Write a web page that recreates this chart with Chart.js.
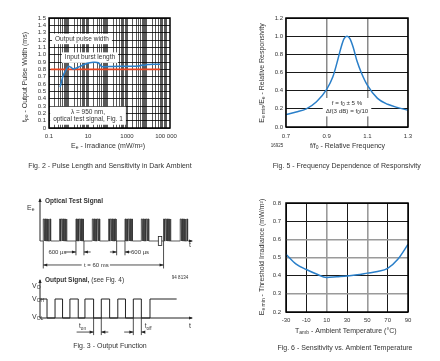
<!DOCTYPE html>
<html>
<head>
<meta charset="utf-8">
<script src="https://cdn.jsdelivr.net/npm/chart.js@4.4.1/dist/chart.umd.min.js"></script>
<style>
html, body { margin: 0; padding: 0; background: #fff; }
#wrap { position: relative; width: 440px; height: 361px; overflow: hidden; }
canvas { position: absolute; }
</style>
</head>
<body>
<div id="wrap">
  <canvas id="fig2" width="220" height="180" style="left:0;top:0"></canvas>
  <canvas id="fig5" width="220" height="180" style="left:220px;top:0"></canvas>
  <canvas id="fig3" width="220" height="181" style="left:0;top:180px"></canvas>
  <canvas id="fig6" width="220" height="181" style="left:220px;top:180px"></canvas>
</div>
<script>
// Fig. 2 - pulse length vs irradiance
var irradiance = [0.37, 0.54, 0.81, 0.98, 1.3, 1.8, 3.9, 8.5, 18.7, 34, 50, 200, 1000, 4100, 6000, 7500, 11000, 20000, 49000];
var pulseWidth = [0.555, 0.72, 0.81, 0.84, 0.83, 0.805, 0.84, 0.88, 0.896, 0.89, 0.84, 0.84, 0.842, 0.845, 0.86, 0.852, 0.865, 0.87, 0.87];
var burstIrradiance = [0.12, 50000];
var burstLength = [0.8, 0.8];
var irrTickValues = [0.1, 10, 1000, 100000];
var irrTickLabels = ['0.1', '10', '1000', '100 000'];

// Fig. 5 - relative responsivity vs relative frequency
var relFreq = [0.7, 0.75, 0.8, 0.85, 0.9, 0.93, 0.95, 0.97, 0.985, 1.0, 1.015, 1.03, 1.05, 1.07, 1.1, 1.15, 1.2, 1.25, 1.3];
var relResp = [0.137, 0.165, 0.2, 0.278, 0.415, 0.55, 0.7, 0.87, 0.97, 1.0, 0.97, 0.88, 0.72, 0.6, 0.46, 0.315, 0.25, 0.213, 0.185];

// Fig. 6 - threshold irradiance vs ambient temperature
var ambTemp = [-30, -20, -10, 0, 10, 20, 30, 40, 50, 60, 70, 80, 90];
var threshold = [0.518, 0.464, 0.434, 0.409, 0.39, 0.394, 0.398, 0.405, 0.414, 0.423, 0.44, 0.49, 0.572];

// Fig. 3 - timing diagram, time in burst periods
var burstStarts = [0, 1, 2, 3, 4, 5, 6, 7.36, 8.38];
var carrierStarts = [0, 0.1, 0.2, 0.3, 0.4];
var carrierWidth = 0.05;
var outputEdges = [-0.2, 0.23, 0.72, 1.18, 1.63, 2.14, 2.55, 3.08, 3.55, 4.06, 4.56, 5.03, 5.51, 6.0, 6.53, 8.16];
var outputLevels = [1, 0, 1, 0, 1, 0, 1, 0, 1, 0, 1, 0, 1, 0, 1, 1];

var FONT = '"Liberation Sans", Arial, Helvetica, sans-serif';
var INK = '#333';
var BLUE = '#2a7fc9';
var RED = '#e8431e';
Chart.defaults.font.family = FONT;
Chart.defaults.color = INK;

// text helpers: _{sub}  ^{sup}  *{bold}
function parseRich(s) {
  var parts = [], re = /([_^*])\{([^}]*)\}/g, last = 0, m;
  while ((m = re.exec(s))) {
    if (m.index > last) parts.push([s.slice(last, m.index), 'n']);
    parts.push([m[2], m[1]]);
    last = re.lastIndex;
  }
  if (last < s.length) parts.push([s.slice(last), 'n']);
  return parts;
}
function fontFor(kind, size) {
  if (kind === '_' || kind === '^') return (size * 0.72).toFixed(1) + 'px ' + FONT;
  if (kind === '*') return 'bold ' + size + 'px ' + FONT;
  return size + 'px ' + FONT;
}
function richWidth(ctx, s, size) {
  var w = 0;
  parseRich(s).forEach(function (p) { ctx.font = fontFor(p[1], size); w += ctx.measureText(p[0]).width; });
  return w;
}
function drawRich(ctx, s, x, y, size, align, rot) {
  var w = richWidth(ctx, s, size);
  ctx.save();
  ctx.translate(x, y);
  ctx.rotate(rot || 0);
  ctx.fillStyle = INK;
  ctx.textBaseline = 'middle';
  ctx.textAlign = 'left';
  var cx = align === 'left' ? 0 : align === 'right' ? -w : -w / 2;
  parseRich(s).forEach(function (p) {
    ctx.font = fontFor(p[1], size);
    var dy = p[1] === '_' ? size * 0.3 : p[1] === '^' ? -size * 0.3 : 0;
    ctx.fillText(p[0], cx, dy);
    cx += ctx.measureText(p[0]).width;
  });
  ctx.restore();
}
function noteBox(ctx, lines, cx, cy, size, lineH) {
  var w = Math.max.apply(null, lines.map(function (l) { return richWidth(ctx, l, size); })) + 6;
  var h = lines.length * lineH + 3;
  ctx.save();
  ctx.fillStyle = '#fff';
  ctx.fillRect(cx - w / 2, cy - h / 2, w, h);
  ctx.restore();
  lines.forEach(function (l, i) {
    drawRich(ctx, l, cx, cy + (i - (lines.length - 1) / 2) * lineH, size, 'center');
  });
}

// fix axis box sizes so the plot areas land where the reference has them
function fitTo(size) {
  return function (s) { if (s.isHorizontal()) s.height = size; else s.width = size; };
}
var tickFont = { size: 6, family: FONT };
var base = {
  responsive: false,
  animation: false,
  events: [],
  plugins: { legend: { display: false }, tooltip: { enabled: false } }
};
var frame = {
  id: 'frame',
  afterDatasetsDraw: function (chart) {
    var a = chart.chartArea, c = chart.ctx;
    c.save();
    c.strokeStyle = '#000';
    c.lineWidth = 1.5;
    c.strokeRect(a.left, a.top, a.right - a.left, a.bottom - a.top);
    c.restore();
  }
};
function pts(xs, ys) { return xs.map(function (x, i) { return { x: x, y: ys[i] }; }); }

// ---------- Fig. 2 ----------
var irrGrid = [];
for (var e = -1; e <= 5; e++) {
  for (var m = 1; m <= 9; m++) {
    var v = m * Math.pow(10, e);
    if (v <= 160000) irrGrid.push(v);
  }
}
function irrLabel(v) {
  for (var i = 0; i < irrTickValues.length; i++) {
    if (Math.abs(v / irrTickValues[i] - 1) < 1e-6) return irrTickLabels[i];
  }
  return '';
}
new Chart(document.getElementById('fig2'), {
  type: 'line',
  data: {
    datasets: [
      { data: pts(irradiance, pulseWidth), borderColor: BLUE, borderWidth: 1.5, pointRadius: 0, tension: 0.3 },
      { data: pts(burstIrradiance, burstLength), borderColor: RED, borderWidth: 1.6, pointRadius: 0 }
    ]
  },
  options: Object.assign({}, base, {
    layout: { padding: { left: 0, top: 18, right: 50, bottom: 0 } },
    scales: {
      x: {
        type: 'logarithmic', min: 0.1, max: 160000, afterFit: fitTo(52),
        afterBuildTicks: function (s) { s.ticks = irrGrid.map(function (v) { return { value: v }; }); },
        grid: { color: 'rgba(0,0,0,0.72)', lineWidth: 0.9, drawTicks: false },
        border: { display: false },
        ticks: { autoSkip: false, maxRotation: 0, padding: 5, font: tickFont, color: INK, callback: function (v) { return irrLabel(v); } }
      },
      y: {
        min: 0, max: 1.5, afterFit: fitTo(49),
        grid: { color: 'rgba(0,0,0,0.8)', lineWidth: 1, drawTicks: false },
        border: { display: false },
        ticks: { stepSize: 0.1, autoSkip: false, padding: 3, font: tickFont, color: INK,
          callback: function (v) { return v === 0 ? '0' : v.toFixed(1); } }
      }
    }
  }),
  plugins: [frame, {
    id: 'notes2',
    beforeDatasetsDraw: function (chart) {
      var c = chart.ctx, sx = chart.scales.x, sy = chart.scales.y;
      noteBox(c, ['Output pulse width'], sx.getPixelForValue(4.9), sy.getPixelForValue(1.215), 6.5, 7.5);
      noteBox(c, ['Input burst length'], sx.getPixelForValue(12.6), sy.getPixelForValue(0.96), 6.5, 7.5);
      noteBox(c, ['\u03bb = 950 nm,', 'optical test signal, Fig. 1'], sx.getPixelForValue(10), sy.getPixelForValue(0.167), 6.5, 7.5);
    },
    afterDraw: function (chart) {
      var c = chart.ctx;
      drawRich(c, 't_{po} - Output Pulse Width (ms)', 25, 77, 7, 'center', -Math.PI / 2);
      drawRich(c, 'E_{e} - Irradiance (mW/m\u00b2)', 108, 146, 7, 'center');
      drawRich(c, 'Fig. 2 - Pulse Length and Sensitivity in Dark Ambient', 110, 166, 7, 'center');
    }
  }]
});

// ---------- Fig. 5 ----------
new Chart(document.getElementById('fig5'), {
  type: 'line',
  data: {
    datasets: [
      { data: pts(relFreq, relResp), borderColor: BLUE, borderWidth: 1.5, pointRadius: 0, cubicInterpolationMode: 'monotone' }
    ]
  },
  options: Object.assign({}, base, {
    layout: { padding: { left: 0, top: 18, right: 32, bottom: 0 } },
    scales: {
      x: {
        type: 'linear', min: 0.7, max: 1.3, afterFit: fitTo(53),
        grid: { color: '#8a8a8a', lineWidth: 1.5, drawTicks: false },
        border: { display: false },
        ticks: { stepSize: 0.2, padding: 6, font: tickFont, color: INK, callback: function (v) { return v.toFixed(1); } }
      },
      y: {
        min: 0, max: 1.2, afterFit: fitTo(66),
        grid: { color: '#1a1a1a', lineWidth: 1, drawTicks: false },
        border: { display: false },
        ticks: { stepSize: 0.2, padding: 3, font: tickFont, color: INK, callback: function (v) { return v.toFixed(1); } }
      }
    }
  }),
  plugins: [frame, {
    id: 'notes5',
    beforeDatasetsDraw: function (chart) {
      var c = chart.ctx, sx = chart.scales.x, sy = chart.scales.y;
      noteBox(c, ['f = f_{0} \u00b1 5 %', '\u0394f(3 dB) = f_{0}/10'], sx.getPixelForValue(1.0), sy.getPixelForValue(0.218), 6.2, 7.7);
    },
    afterDraw: function (chart) {
      var c = chart.ctx;
      drawRich(c, 'E_{e min}/E_{e} - Relative Responsivity', 42, 73, 7, 'center', -Math.PI / 2);
      drawRich(c, 'f/f_{0} - Relative Frequency', 127.5, 146, 7, 'center');
      drawRich(c, '16925', 57, 146, 4.5, 'center');
      drawRich(c, 'Fig. 5 - Frequency Dependence of Responsivity', 126.7, 166, 7, 'center');
    }
  }]
});

// ---------- Fig. 6 ----------
var tempGridGray = [10, 50];
var irrGridGray = [0.6, 0.5, 0.3];
new Chart(document.getElementById('fig6'), {
  type: 'line',
  data: {
    datasets: [
      { data: pts(ambTemp, threshold), borderColor: BLUE, borderWidth: 1.5, pointRadius: 0, cubicInterpolationMode: 'monotone' }
    ]
  },
  options: Object.assign({}, base, {
    layout: { padding: { left: 0, top: 23, right: 32, bottom: 0 } },
    scales: {
      x: {
        type: 'linear', min: -30, max: 90, afterFit: fitTo(49),
        grid: {
          drawTicks: false,
          color: function (c) { return tempGridGray.indexOf(c.tick.value) >= 0 ? '#9a9a9a' : '#1a1a1a'; },
          lineWidth: function (c) { return tempGridGray.indexOf(c.tick.value) >= 0 ? 1.6 : 1; }
        },
        border: { display: false },
        ticks: { stepSize: 20, padding: 5, font: tickFont, color: INK }
      },
      y: {
        min: 0.2, max: 0.8, afterFit: fitTo(66),
        grid: {
          drawTicks: false,
          color: function (c) { return irrGridGray.some(function (g) { return Math.abs(g - c.tick.value) < 1e-6; }) ? '#9a9a9a' : '#1a1a1a'; },
          lineWidth: function (c) { return irrGridGray.some(function (g) { return Math.abs(g - c.tick.value) < 1e-6; }) ? 1.6 : 1; }
        },
        border: { display: false },
        ticks: { stepSize: 0.1, padding: 5, font: tickFont, color: INK, callback: function (v) { return v.toFixed(1); } }
      }
    }
  }),
  plugins: [frame, {
    id: 'notes6',
    afterDraw: function (chart) {
      var c = chart.ctx;
      drawRich(c, 'E_{e min} - Threshold Irradiance (mW/m\u00b2)', 42, 77, 7, 'center', -Math.PI / 2);
      drawRich(c, 'T_{amb} - Ambient Temperature (\u00b0C)', 125.8, 151, 7, 'center');
      drawRich(c, 'Fig. 6 - Sensitivity vs. Ambient Temperature', 125, 168, 7, 'center');
    }
  }]
});

// ---------- Fig. 3 ----------
var optical = [{ x: -0.2, y: 0 }];
burstStarts.forEach(function (b) {
  carrierStarts.forEach(function (cs) {
    optical.push({ x: b + cs, y: 0 }, { x: b + cs, y: 1 }, { x: b + cs + carrierWidth, y: 1 }, { x: b + cs + carrierWidth, y: 0 });
  });
});
optical.push({ x: 9.1, y: 0 });

function arrowHead(c, x, y, dir) {
  var L = 4, W = 1.6;
  c.beginPath();
  if (dir === 'r') { c.moveTo(x, y); c.lineTo(x - L, y - W); c.lineTo(x - L, y + W); }
  if (dir === 'l') { c.moveTo(x, y); c.lineTo(x + L, y - W); c.lineTo(x + L, y + W); }
  if (dir === 'u') { c.moveTo(x, y); c.lineTo(x - W, y + L); c.lineTo(x + W, y + L); }
  c.closePath();
  c.fill();
}
function seg(c, x1, y1, x2, y2) { c.beginPath(); c.moveTo(x1, y1); c.lineTo(x2, y2); c.stroke(); }

var lineStyle = { borderColor: '#222', borderWidth: 1, pointRadius: 0, tension: 0, clip: false };
new Chart(document.getElementById('fig3'), {
  type: 'line',
  data: {
    datasets: [
      Object.assign({ data: optical, yAxisID: 'yOpt', borderWidth: 0.8, borderColor: '#333' }, { pointRadius: 0, tension: 0, clip: false }),
      Object.assign({ data: [{ x: -0.2, y: 0 }, { x: -0.2, y: 1.9 }], yAxisID: 'yOpt' }, lineStyle),
      Object.assign({ data: pts(outputEdges, outputLevels), yAxisID: 'yOut', stepped: true }, lineStyle),
      Object.assign({ data: [{ x: -0.2, y: 0 }, { x: 9.1, y: 0 }], yAxisID: 'yOut' }, lineStyle),
      Object.assign({ data: [{ x: -0.2, y: 0 }, { x: -0.2, y: 2.0 }], yAxisID: 'yOut' }, lineStyle)
    ]
  },
  options: Object.assign({}, base, {
    layout: { padding: { left: 40, top: 18, right: 28, bottom: 43 } },
    scales: {
      x: { type: 'linear', min: -0.2, max: 9.1, display: false },
      yOpt: { type: 'linear', min: -3.5, max: 1.9545, display: false },
      yOut: { type: 'linear', min: 0, max: 6.3158, display: false }
    }
  }),
  plugins: [{
    id: 'notes3',
    afterDatasetsDraw: function (chart) {
      var c = chart.ctx, sx = chart.scales.x, so = chart.scales.yOpt, sv = chart.scales.yOut;
      var X = function (u) { return sx.getPixelForValue(u); };
      var O = function (v) { return so.getPixelForValue(v); };
      var V = function (v) { return sv.getPixelForValue(v); };
      c.save();
      c.strokeStyle = '#222';
      c.fillStyle = '#222';
      c.lineWidth = 0.8;
      // axis arrowheads
      arrowHead(c, X(-0.2), O(1.95), 'u');
      arrowHead(c, X(9.1) + 1, O(0), 'r');
      arrowHead(c, X(-0.2), V(2.05), 'u');
      arrowHead(c, X(9.1) + 1, V(0), 'r');
      // time break
      c.fillStyle = '#fff';
      c.fillRect(X(7.04), O(0.2), X(7.25) - X(7.04), O(-0.2) - O(0.2));
      c.strokeRect(X(7.04), O(0.2), X(7.25) - X(7.04), O(-0.2) - O(0.2));
      c.fillStyle = '#222';
      // optical dimension lines
      [2, 2.49, 4.49, 5].forEach(function (u) { seg(c, X(u), O(0), X(u), O(-0.65)); });
      [0, 7.36].forEach(function (u) { seg(c, X(u), O(0), X(u), O(-1.25)); });
      var y1 = O(-0.5);
      seg(c, X(1.35), y1, X(2), y1); arrowHead(c, X(2), y1, 'r');
      seg(c, X(2.49), y1, X(2.9), y1); arrowHead(c, X(2.49), y1, 'l');
      seg(c, X(4.08), y1, X(4.49), y1); arrowHead(c, X(4.49), y1, 'r');
      seg(c, X(5), y1, X(5.35), y1); arrowHead(c, X(5), y1, 'l');
      var y2 = O(-1.09);
      seg(c, X(0), y2, X(2.35), y2); arrowHead(c, X(0), y2, 'l');
      seg(c, X(4.08), y2, X(7.36), y2); arrowHead(c, X(7.36), y2, 'r');
      // output dimension lines
      [3.08, 3.55, 5.51, 6.0].forEach(function (u) { seg(c, X(u), V(0), X(u), V(-0.9)); });
      var y3 = V(-0.74);
      seg(c, X(2.04), y3, X(3.08), y3); arrowHead(c, X(3.08), y3, 'r');
      seg(c, X(3.55), y3, X(3.98), y3); arrowHead(c, X(3.55), y3, 'l');
      seg(c, X(4.95), y3, X(5.51), y3); arrowHead(c, X(5.51), y3, 'r');
      seg(c, X(6.0), y3, X(6.2), y3); arrowHead(c, X(6.0), y3, 'l');
      c.restore();
      // labels
      drawRich(c, '600 \u00b5s', X(0.87), y1, 6, 'center');
      drawRich(c, '600 \u00b5s', X(5.92), y1, 6, 'center');
      drawRich(c, 't = 60 ms', X(3.25), y2, 6, 'center');
      drawRich(c, 't_{on}', X(2.4), V(-0.45), 6.5, 'center');
      drawRich(c, 't_{off}', X(6.42), V(-0.45), 6.5, 'center');
      drawRich(c, 'E_{e}', 27, 28, 7, 'left');
      drawRich(c, '*{Optical Test Signal}', 45, 21, 6.5, 'left');
      drawRich(c, 't', 190, 65, 7, 'center');
      drawRich(c, 'V_{O}', 32, 106, 7, 'left');
      drawRich(c, 'V_{OH}', 32, 119, 7, 'left');
      drawRich(c, 'V_{OL}', 32, 137, 7, 'left');
      drawRich(c, '*{Output Signal,} (see Fig. 4)', 45, 100, 6.5, 'left');
      drawRich(c, '94 8134', 180, 98, 4.5, 'center');
      drawRich(c, 't', 190, 146, 7, 'center');
      drawRich(c, 'Fig. 3 - Output Function', 110, 165.7, 7, 'center');
    }
  }]
});
</script>
</body>
</html>
